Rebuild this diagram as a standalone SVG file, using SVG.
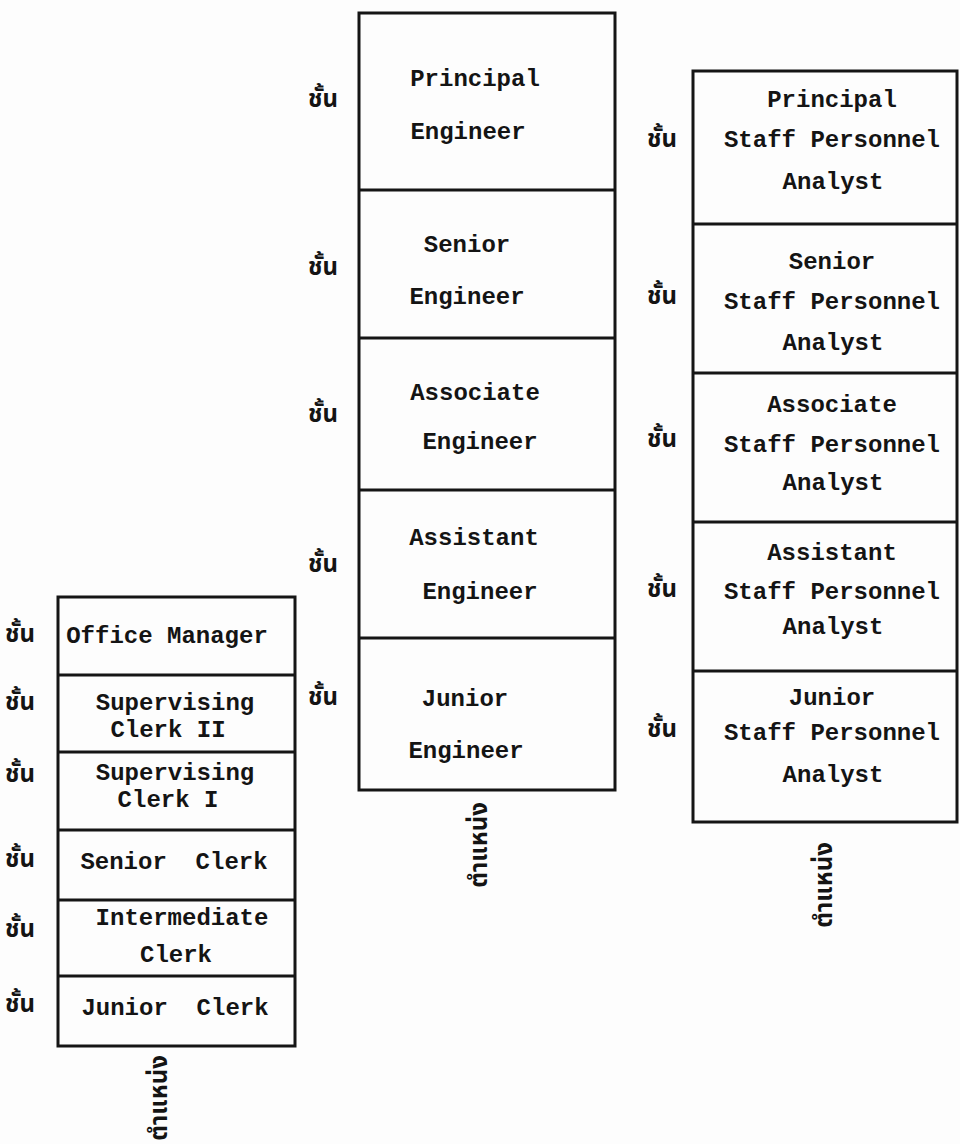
<svg xmlns="http://www.w3.org/2000/svg" width="960" height="1144" viewBox="0 0 960 1144">
<style>
  .box { fill: none; stroke: #151515; stroke-width: 3; }
  .div { stroke: #151515; stroke-width: 3; }
  .t { font-family: "Liberation Mono", "DejaVu Sans Mono", monospace; font-weight: bold; font-size: 24px; fill: #141414; text-anchor: middle; }
  .th { font-family: "Noto Sans Thai", "Noto Sans", "DejaVu Sans", sans-serif; font-weight: bold; font-size: 24px; fill: #141414; text-anchor: middle; dominant-baseline: central; }
</style>
<rect width="960" height="1144" fill="#fdfdfd"/>

<g id="connectors"></g>

<!-- Left column: Clerk series -->
<g id="clerk-column">
  <rect class="box" x="58" y="597" width="237" height="449"/>
  <line class="div" x1="58" y1="675" x2="295" y2="675"/>
  <line class="div" x1="58" y1="752" x2="295" y2="752"/>
  <line class="div" x1="58" y1="830" x2="295" y2="830"/>
  <line class="div" x1="58" y1="900" x2="295" y2="900"/>
  <line class="div" x1="58" y1="976" x2="295" y2="976"/>
  <g transform="translate(160,1098) rotate(-90)"><text class="th" x="0" y="0">ตำแหน่ง</text></g>
</g>
<g id="office-manager"><text class="th" x="20" y="635">ชั้น</text><text class="t" x="167" y="643">Office Manager</text></g>
<g id="supervising-clerk-2"><text class="th" x="20" y="703">ชั้น</text><text class="t" x="175" y="710">Supervising</text><text class="t" x="168" y="737">Clerk II</text></g>
<g id="supervising-clerk-1"><text class="th" x="20" y="775">ชั้น</text><text class="t" x="175" y="780">Supervising</text><text class="t" x="168" y="807">Clerk I</text></g>
<g id="senior-clerk"><text class="th" x="20" y="860">ชั้น</text><text class="t" x="174" y="869" xml:space="preserve">Senior  Clerk</text></g>
<g id="intermediate-clerk"><text class="th" x="20" y="930">ชั้น</text><text class="t" x="182" y="925">Intermediate</text><text class="t" x="176" y="962">Clerk</text></g>
<g id="junior-clerk"><text class="th" x="20" y="1005">ชั้น</text><text class="t" x="175" y="1015" xml:space="preserve">Junior  Clerk</text></g>

<!-- Middle column: Engineer series -->
<g id="engineer-column">
  <rect class="box" x="359" y="13" width="256" height="777"/>
  <line class="div" x1="359" y1="190" x2="615" y2="190"/>
  <line class="div" x1="359" y1="338" x2="615" y2="338"/>
  <line class="div" x1="359" y1="490" x2="615" y2="490"/>
  <line class="div" x1="359" y1="638" x2="615" y2="638"/>
  <g transform="translate(480,845) rotate(-90)"><text class="th" x="0" y="0">ตำแหน่ง</text></g>
</g>
<g id="principal-engineer"><text class="th" x="323" y="100">ชั้น</text><text class="t" x="475" y="86">Principal</text><text class="t" x="468" y="139">Engineer</text></g>
<g id="senior-engineer"><text class="th" x="323" y="268">ชั้น</text><text class="t" x="467" y="252">Senior</text><text class="t" x="467" y="304">Engineer</text></g>
<g id="associate-engineer"><text class="th" x="323" y="415">ชั้น</text><text class="t" x="475" y="400">Associate</text><text class="t" x="480" y="449">Engineer</text></g>
<g id="assistant-engineer"><text class="th" x="323" y="565">ชั้น</text><text class="t" x="474" y="545">Assistant</text><text class="t" x="480" y="599">Engineer</text></g>
<g id="junior-engineer"><text class="th" x="323" y="698">ชั้น</text><text class="t" x="465" y="706">Junior</text><text class="t" x="466" y="758">Engineer</text></g>

<!-- Right column: Staff Personnel Analyst series -->
<g id="analyst-column">
  <rect class="box" x="693" y="71" width="264" height="751"/>
  <line class="div" x1="693" y1="224" x2="957" y2="224"/>
  <line class="div" x1="693" y1="373" x2="957" y2="373"/>
  <line class="div" x1="693" y1="522" x2="957" y2="522"/>
  <line class="div" x1="693" y1="671" x2="957" y2="671"/>
  <g transform="translate(825,885) rotate(-90)"><text class="th" x="0" y="0">ตำแหน่ง</text></g>
</g>
<g id="principal-analyst"><text class="th" x="662" y="140">ชั้น</text><text class="t" x="832" y="107">Principal</text><text class="t" x="832" y="147">Staff Personnel</text><text class="t" x="833" y="189">Analyst</text></g>
<g id="senior-analyst"><text class="th" x="662" y="297">ชั้น</text><text class="t" x="832" y="269">Senior</text><text class="t" x="832" y="309">Staff Personnel</text><text class="t" x="833" y="350">Analyst</text></g>
<g id="associate-analyst"><text class="th" x="662" y="440">ชั้น</text><text class="t" x="832" y="412">Associate</text><text class="t" x="832" y="452">Staff Personnel</text><text class="t" x="833" y="490">Analyst</text></g>
<g id="assistant-analyst"><text class="th" x="662" y="590">ชั้น</text><text class="t" x="832" y="560">Assistant</text><text class="t" x="832" y="599">Staff Personnel</text><text class="t" x="833" y="634">Analyst</text></g>
<g id="junior-analyst"><text class="th" x="662" y="730">ชั้น</text><text class="t" x="832" y="705">Junior</text><text class="t" x="832" y="740">Staff Personnel</text><text class="t" x="833" y="782">Analyst</text></g>
</svg>
